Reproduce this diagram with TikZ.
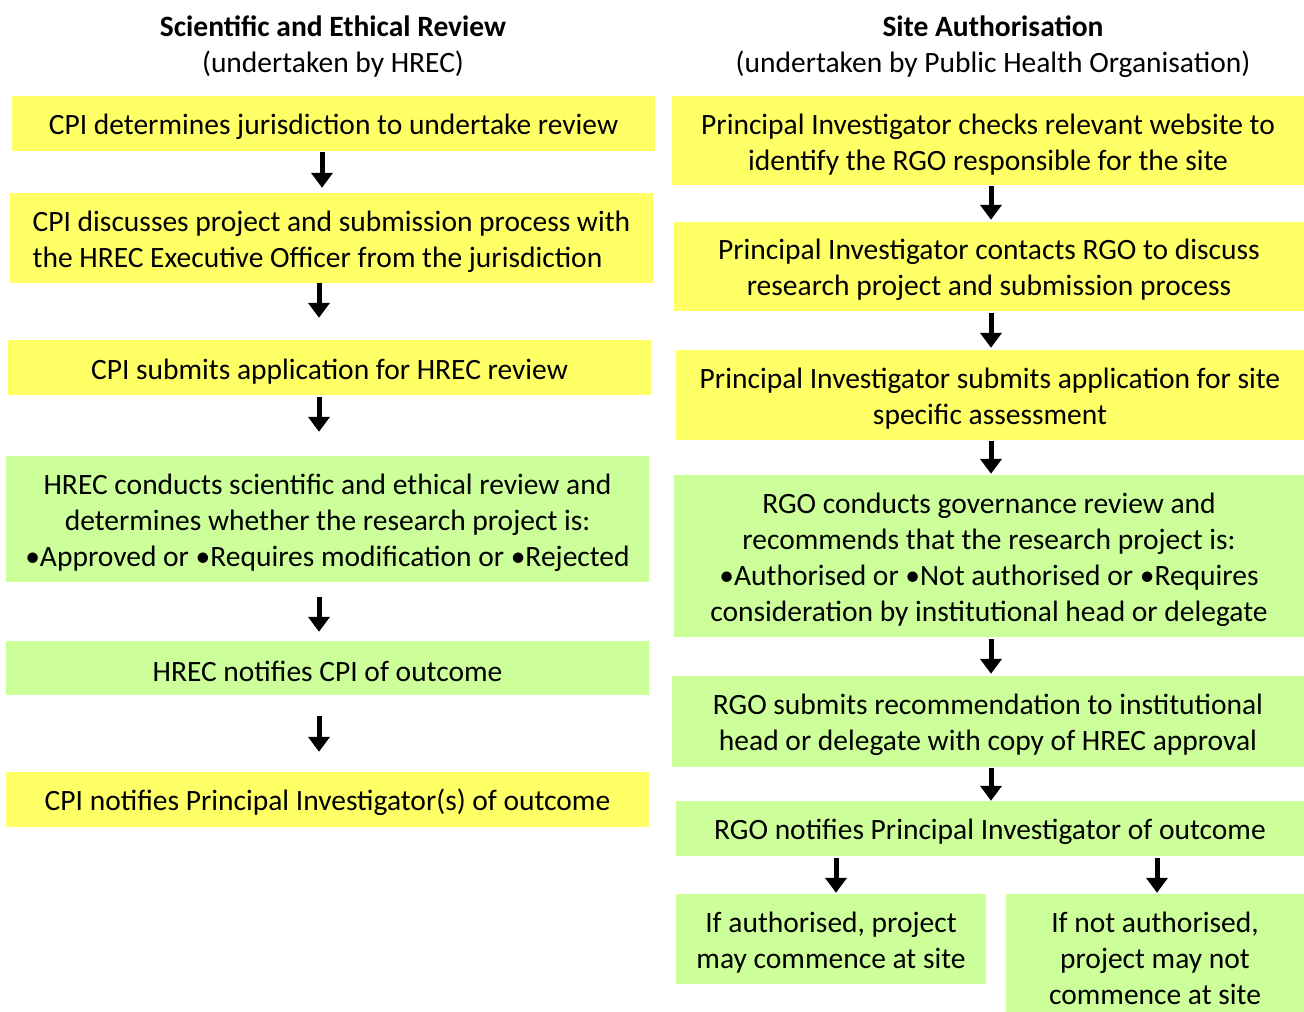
\documentclass[tikz,border=0pt]{standalone}
\usepackage{fontspec}
\setmainfont{Carlito}
\usetikzlibrary{arrows.meta}
\definecolor{boxyellow}{HTML}{FFFF66}
\definecolor{boxgreen}{HTML}{CCFF99}
\newcommand{\topstrut}{\rule{0pt}{28pt}}
\tikzset{
  x=1pt, y=-1pt,
  box/.style={inner sep=0pt, align=center, font=\fontsize{29.5}{36}\selectfont, text=black},
  ybox/.style={box, fill=boxyellow},
  gbox/.style={box, fill=boxgreen},
  head/.style={inner sep=0pt, align=center, font=\fontsize{29.5}{36}\selectfont},
  arr/.style={line width=5pt, -{Triangle[width=21pt,length=15pt]}},
}
\begin{document}
\begin{tikzpicture}
\useasboundingbox (0,0) rectangle (1304,1012);
% headers
\node[head] (hl) at (333,47) {\textbf{Scientific and Ethical Review}\\(undertaken by HREC)};
\node[head] (hr) at (993,47) {\textbf{Site Authorisation}\\(undertaken by Public Health Organisation)};
% left column
\node[ybox, minimum width=643, minimum height=55] (L1) at (333.5,123.5) {\topstrut CPI determines jurisdiction to undertake review};
\node[ybox, minimum width=643, minimum height=90, align=left] (L2) at (331.5,238) {\topstrut CPI discusses project and submission process with\\the HREC Executive Officer from the jurisdiction};
\node[ybox, minimum width=643, minimum height=55] (L3) at (329.5,367.5) {\topstrut CPI submits application for HREC review};
\node[gbox, minimum width=643, minimum height=126] (L4) at (327.5,519) {\topstrut HREC conducts scientific and ethical review and\\determines whether the research project is:\\•Approved or •Requires modification or •Rejected};
\node[gbox, minimum width=643, minimum height=54] (L5) at (327.5,668) {\topstrut HREC notifies CPI of outcome};
\node[ybox, minimum width=643, minimum height=55] (L6) at (327.5,799.5) {\topstrut CPI notifies Principal Investigator(s) of outcome};
% right column
\node[ybox, minimum width=632, minimum height=89] (R1) at (988,140.5) {\topstrut Principal Investigator checks relevant website to\\identify the RGO responsible for the site};
\node[ybox, minimum width=630, minimum height=89] (R2) at (989,266.5) {\topstrut Principal Investigator contacts RGO to discuss\\research project and submission process};
\node[ybox, minimum width=628, minimum height=90] (R3) at (990,395) {\topstrut Principal Investigator submits application for site\\specific assessment};
\node[gbox, minimum width=630, minimum height=162] (R4) at (989,556) {\topstrut RGO conducts governance review and\\recommends that the research project is:\\•Authorised or •Not authorised or •Requires\\consideration by institutional head or delegate};
\node[gbox, minimum width=632, minimum height=91] (R5) at (988,721.5) {\topstrut RGO submits recommendation to institutional\\head or delegate with copy of HREC approval};
\node[gbox, minimum width=628, minimum height=55] (R6) at (990,828.5) {\topstrut RGO notifies Principal Investigator of outcome};
\node[gbox, minimum width=310, minimum height=90] (R7) at (831,939) {\topstrut If authorised, project\\may commence at site};
\node[gbox, minimum width=298, minimum height=122] (R8) at (1155,955) {\topstrut If not authorised,\\project may not\\commence at site};
% left arrows
\draw[arr, shorten <=1pt, shorten >=5pt] ([xshift=-11.5pt]L1.south) -- ([xshift=-9.5pt]L2.north);
\draw[arr, shorten <=0pt, shorten >=22pt] ([xshift=-12.5pt]L2.south) -- ([xshift=-10.5pt]L3.north);
\draw[arr, shorten <=2pt, shorten >=24pt] ([xshift=-10.5pt]L3.south) -- ([xshift=-8.5pt]L4.north);
\draw[arr, shorten <=15pt, shorten >=9pt] ([xshift=-8.5pt]L4.south) -- ([xshift=-8.5pt]L5.north);
\draw[arr, shorten <=21pt, shorten >=20pt] ([xshift=-8.5pt]L5.south) -- ([xshift=-8.5pt]L6.north);
% right arrows
\draw[arr, shorten <=1pt, shorten >=2pt] ([xshift=3pt]R1.south) -- ([xshift=2pt]R2.north);
\draw[arr, shorten <=2pt, shorten >=2pt] ([xshift=2pt]R2.south) -- ([xshift=1pt]R3.north);
\draw[arr, shorten <=1pt, shorten >=1pt] ([xshift=1pt]R3.south) -- ([xshift=2pt]R4.north);
\draw[arr, shorten <=2pt, shorten >=2pt] ([xshift=2pt]R4.south) -- ([xshift=3pt]R5.north);
\draw[arr, shorten <=1pt, shorten >=0pt] ([xshift=3pt]R5.south) -- ([xshift=1pt]R6.north);
\draw[arr, shorten <=2pt, shorten >=1pt] ([xshift=-154pt]R6.south) -- ([xshift=5pt]R7.north);
\draw[arr, shorten <=2pt, shorten >=1pt] ([xshift=167pt]R6.south) -- ([xshift=2pt]R8.north);
\end{tikzpicture}
\end{document}
